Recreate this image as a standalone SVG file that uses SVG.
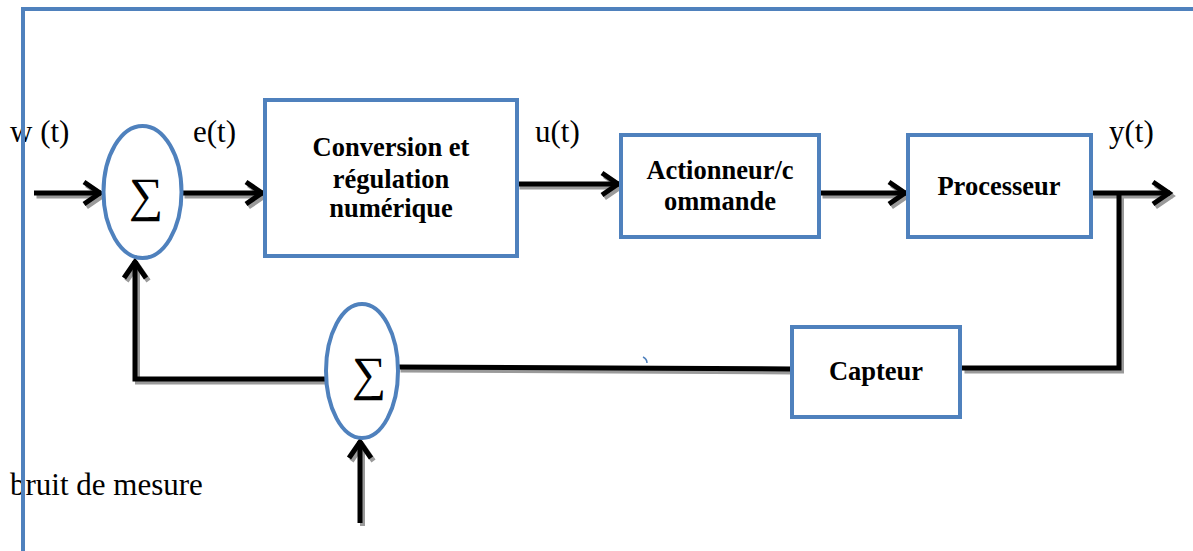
<svg xmlns="http://www.w3.org/2000/svg" width="1193" height="551" viewBox="0 0 1193 551">
<style>
.frame{fill:none;stroke:#4F81BD;stroke-width:4}
.box{fill:#fff;stroke:#4F81BD;stroke-width:4}
.sum{fill:#fff;stroke:#4F81BD;stroke-width:4}
.lbl{font-family:"Liberation Serif","Times New Roman",serif;font-size:31px;fill:#000}
.bl{font-family:"Liberation Serif","Times New Roman",serif;font-size:26.5px;font-weight:bold;fill:#000;text-anchor:middle}
.sig{font-family:"Liberation Serif","DejaVu Serif",serif;font-size:48px;fill:#000;text-anchor:middle}
.c{fill:none;stroke:#000;stroke-width:5}
.sh{fill:none;stroke:#9a9a9a;stroke-width:5}
</style>
<defs>
<marker id="ah" markerUnits="userSpaceOnUse" markerWidth="30" markerHeight="30" viewBox="-24 -15 30 30" refX="0" refY="0" orient="auto" overflow="visible">
<path d="M-17,-11 L-1,0 L-17,11" fill="none" stroke="#000" stroke-width="5"/>
</marker>
<marker id="ahs" markerUnits="userSpaceOnUse" markerWidth="30" markerHeight="30" viewBox="-24 -15 30 30" refX="0" refY="0" orient="auto" overflow="visible">
<path d="M-17,-11 L-1,0 L-17,11" fill="none" stroke="#9a9a9a" stroke-width="5"/>
</marker>
</defs>
<rect width="1193" height="551" fill="#fff"/>
<g id="connectors">
<g transform="translate(2.5,3)">
<path class="sh" d="M34,193 H101" marker-end="url(#ahs)"/>
<path class="sh" d="M182,193 H263" marker-end="url(#ahs)"/>
<path class="sh" d="M517,184 H619" marker-end="url(#ahs)"/>
<path class="sh" d="M820,193 H906" marker-end="url(#ahs)"/>
<path class="sh" d="M1091,193 H1170" marker-end="url(#ahs)"/>
<path class="sh" d="M1119,193 V368 H962"/>
<path class="sh" d="M792,369 L398,367"/>
<path class="sh" d="M326,379 H135 V261" marker-end="url(#ahs)"/>
<path class="sh" d="M360,523 V441" marker-end="url(#ahs)"/>
</g>
<path class="c" d="M34,193 H101" marker-end="url(#ah)"/>
<path class="c" d="M182,193 H263" marker-end="url(#ah)"/>
<path class="c" d="M517,184 H619" marker-end="url(#ah)"/>
<path class="c" d="M820,193 H906" marker-end="url(#ah)"/>
<path class="c" d="M1091,193 H1170" marker-end="url(#ah)"/>
<path class="c" d="M1119,193 V368 H962"/>
<path class="c" d="M792,369 L398,367"/>
<path class="c" d="M326,379 H135 V261" marker-end="url(#ah)"/>
<path class="c" d="M360,523 V441" marker-end="url(#ah)"/>
</g>
<path d="M643,357 Q647,359 647,363" fill="none" stroke="#4F81BD" stroke-width="1.5"/>
<g id="sum1">
<ellipse class="sum" cx="142.5" cy="192" rx="39" ry="66"/>
<text class="sig" x="146" y="211">∑</text>
</g>
<g id="sum2">
<ellipse class="sum" cx="362" cy="371" rx="36" ry="67"/>
<text class="sig" x="369" y="390">∑</text>
</g>
<g id="conversion">
<rect class="box" x="265" y="100" width="252" height="156"/>
<text class="bl" x="391" y="156">Conversion et</text>
<text class="bl" x="391" y="188">régulation</text>
<text class="bl" x="391" y="217">numérique</text>
</g>
<g id="actionneur">
<rect class="box" x="621" y="135" width="198" height="102"/>
<text class="bl" x="720" y="179">Actionneur/c</text>
<text class="bl" x="720" y="210">ommande</text>
</g>
<g id="processeur">
<rect class="box" x="908" y="135" width="183" height="102"/>
<text class="bl" x="999" y="195">Processeur</text>
</g>
<g id="capteur">
<rect class="box" x="792" y="327" width="168" height="90"/>
<text class="bl" x="876" y="380">Capteur</text>
</g>
<text class="lbl" x="10" y="142">w (t)</text>
<text class="lbl" x="193" y="142">e(t)</text>
<text class="lbl" x="535" y="142">u(t)</text>
<text class="lbl" x="1109" y="142">y(t)</text>
<text class="lbl" x="10" y="495">bruit de mesure</text>
<path class="frame" d="M23,551 V9 H1193"/>
</svg>
